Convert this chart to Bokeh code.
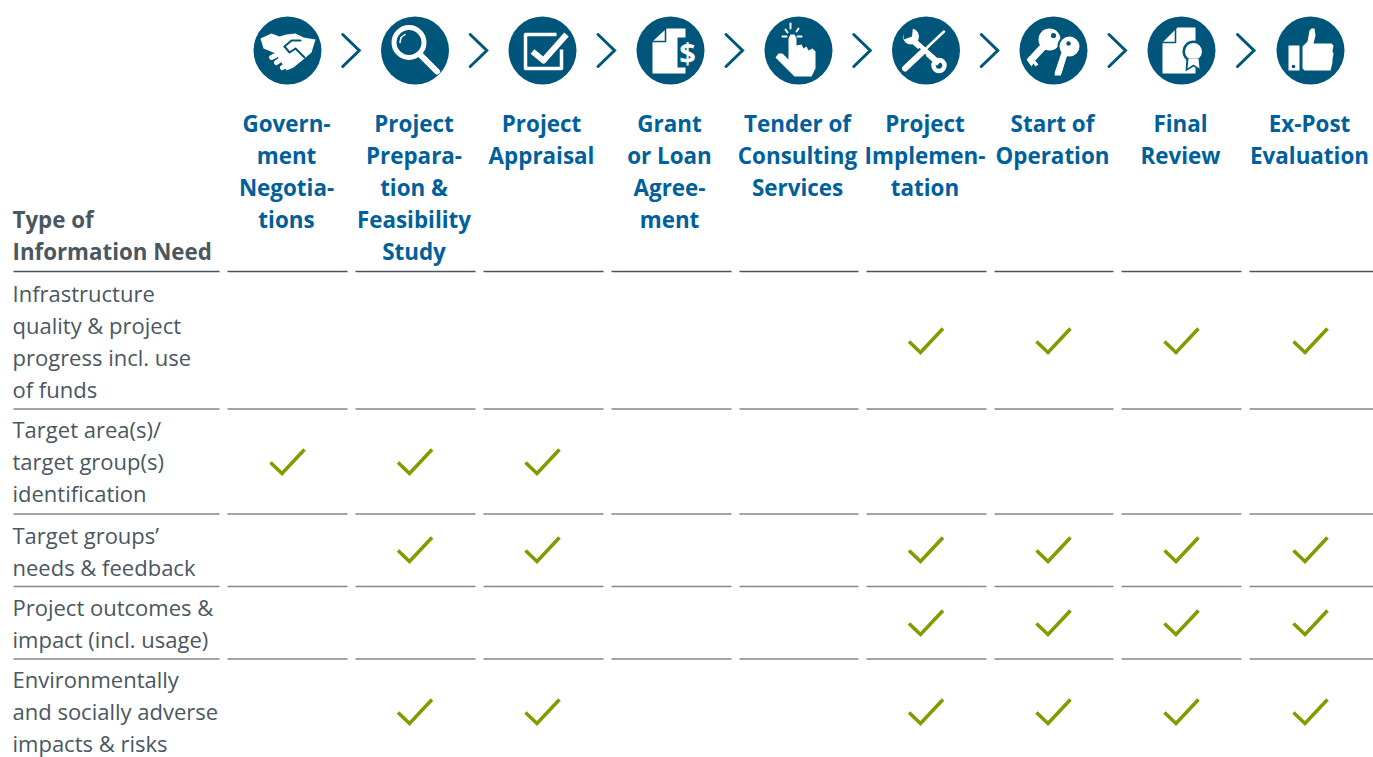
from bokeh.plotting import figure
from bokeh.models import Range1d
from bokeh.core.properties import value
from bokeh.embed import file_html
from bokeh.resources import INLINE

stages = [["Govern-","ment","Negotia-","tions"],["Project","Prepara-","tion &","Feasibility","Study"],
          ["Project","Appraisal"],["Grant","or Loan","Agree-","ment"],["Tender of","Consulting","Services"],
          ["Project","Implemen-","tation"],["Start of","Operation"],["Final","Review"],["Ex-Post","Evaluation"]]
needs = [["Infrastructure","quality & project","progress incl. use","of funds"],
         ["Target area(s)/","target group(s)","identification"],
         ["Target groups’","needs & feedback"],
         ["Project outcomes &","impact (incl. usage)"],
         ["Environmentally","and socially adverse","impacts & risks"]]
header = ["Type of","Information Need"]
checks = [[0,0,0,0,0,1,1,1,1],[1,1,1,0,0,0,0,0,0],[0,1,1,0,0,1,1,1,1],[0,0,0,0,0,1,1,1,1],[0,1,1,0,0,1,1,1,1]]

col_x = [287,414.5,542,670,798,925.5,1053,1181,1310]
col_l = [227,355,483,611,739,866,994,1121,1249]
col_r = [347,475,603,731,858,986,1113,1241,1373]
rule_y = [271,408.5,513.5,586,658.5]
row_check_y = [340,461,549,622,711]
need_top = [292,428,534,606,678]
LH = 32
BLUE="#00567a"; TITLE="#00609c"; GREY="#4a5761"; GREEN="#849b00"; RULE="#80878c"

p = figure(width=1373,height=757,x_range=Range1d(0,1373),y_range=Range1d(757,0),
           output_backend="svg",toolbar_location=None,min_border=0,outline_line_color=None)
p.xaxis.visible=False; p.yaxis.visible=False; p.grid.visible=False

def txt(x,y,s,color,bold=False,align="left",size="22px"):
    p.text([x],[y],text=[s],text_color=color,text_font=value("Open Sans"),text_font_size=size,
           text_font_style="bold" if bold else "normal",text_align=align,text_baseline="middle")

for i,lines in enumerate(stages):
    for j,s in enumerate(lines):
        txt(col_x[i]-1,123+LH*j,s,TITLE,True,"center","22.4px")
for j,s in enumerate(header):
    txt(12,219+LH*j,s,GREY,True,"left","22.3px")
for i,lines in enumerate(needs):
    for j,s in enumerate(lines):
        txt(12,need_top[i]+LH*j,s,GREY)

# rules
for y,c,w in zip(rule_y,[GREY]+[RULE]*4,[1.6]+[1.4]*4):
    p.segment(x0=[13]+col_l,x1=[219]+col_r,y0=[y]*10,y1=[y]*10,line_color=c,line_width=w)

# checks
for r,row in enumerate(checks):
    for c,v in enumerate(row):
        if v:
            cx,cy=col_x[c],row_check_y[r]
            p.line([cx-17,cx-5.5,cx+17],[cy+1,cy+12,cy-12],line_color=GREEN,line_width=3.6,line_join="miter")

# circles + chevrons
p.circle(x=col_x,y=[50]*9,radius=34,fill_color=BLUE,line_color=None)
for a,b in zip(col_x[:-1],col_x[1:]):
    mx=(a+b)/2-0.5
    p.line([mx-8,mx+8.5,mx-8],[34,50,66],line_color=BLUE,line_width=3,line_cap="round",line_join="miter")

W="white"
def poly(cx,pts,color=W):
    p.patch([cx+a for a,b in pts],[50+b for a,b in pts],fill_color=color,line_color=None)
def ln(cx,xs,ys,w=3,color=W,cap="round"):
    p.line([cx+x for x in xs],[50+y for y in ys],line_color=color,line_width=w,line_cap=cap,line_join="round")
def ring(cx,dx,dy,r,w=4):
    p.circle(x=[cx+dx],y=[50+dy],radius=r,fill_color=None,line_color=W,line_width=w)
def dot(cx,dx,dy,r,color=W):
    p.circle(x=[cx+dx],y=[50+dy],radius=r,fill_color=color,line_color=None)

# handshake
c=col_x[0]
poly(c,[(-27,-12),(-16,-17),(-8,-14),(-1,-16),(8,-17),(16,-13),(28,-11),(24,2),(17,8),(6,17),(-1,20),(-6,12),(-12,3),(-24,-2)])
ln(c,[-3,4,13],[-4,-10,-10],2,BLUE); ln(c,[-3,2,8,17],[-4,2,-2,7],2,BLUE)
ln(c,[-16,-12],[7,5],5); ln(c,[-11,-5],[12,8],5); ln(c,[-5,1],[17,13],5)
# magnifier
c=col_x[1]
ring(c,-6,-8,15,5); ln(c,[6,22],[5,21],6,W,"round")
ln(c,[-15,-14,-10],[-8,-13,-16],1.5)
# checkbox
c=col_x[2]
ln(c,[14,-17,-17,19,19],[-16,-16,18,18,-1],3.5,W,"butt"); ln(c,[-10,1,24],[1,10,-16],6,W,"butt")
# grant doc
c=col_x[3]
poly(c,[(-4,-22),(15,-22),(15,23),(-18,23),(-18,-9)])
ln(c,[-18,-5,-5],[-9,-9,-22],1.6,BLUE)
poly(c,[(7,-13),(26,-13),(26,17),(7,17)],BLUE)
txt(c+17,52,"$",W,True,"center","29px")
# pointing hand
c=col_x[4]
poly(c,[(-10,-12),(-8,-16),(-4,-16),(-2,-12),(-2,-5),(3,-6),(5,-2),(8,-4),(10,0),(14,-2),(17,1),(17,18),(13,26),(-4,26),(-8,22),(-23,7),(-20,3),(-16,3),(-10,9)])
ln(c,[-8,-8],[-27,-22],2); ln(c,[-13,-11],[-21,-18],2); ln(c,[0,-2],[-22,-19],2); ln(c,[-16,-12],[-14,-14],2); ln(c,[-1,3],[-14,-14],2)
# tools
c=col_x[5]
dot(c,-15,-14,8); poly(c,[(-24,-24),(-13,-24),(-14,-14),(-22,-11)],BLUE)
ln(c,[-13,13],[-10,13],6,W,"butt"); ring(c,13,15,5.5,4.5)
ln(c,[-21,-3],[18,1],10,BLUE,"butt")
ln(c,[-21,-3],[18,1],6,W,"round"); ln(c,[-3,18],[1,-19],2.5)
# keys
c=col_x[6]
dot(c,-4,-11,11); dot(c,0,-15,2.6,BLUE); ln(c,[-10,-24],[-4,11],7,W,"butt")
poly(c,[(-27,9),(-21,7),(-15,14),(-18,16),(-20,13),(-22,16)])
dot(c,16,-4,12,BLUE)
dot(c,16,-4,10); dot(c,15,-7,2.2,BLUE); ln(c,[12,4],[0,24],6.5,W,"butt")
poly(c,[(5,12),(11,12),(9,20),(7,25),(1,25)])
# final review doc
c=col_x[7]
poly(c,[(-4,-23),(14,-23),(14,23),(-19,23),(-19,-8)])
ln(c,[-19,-6,-6],[-8,-8,-23],1.6,BLUE)
dot(c,12,1,11,BLUE); dot(c,12,1,8.5); poly(c,[(5,8),(19,8),(20,21),(12,16),(4,21)],BLUE)
poly(c,[(7,8),(17,8),(18,18),(12,14),(6,18)])
# thumbs up
c=col_x[8]
poly(c,[(-22,-5),(-11,-5),(-11,20),(-22,20)]); dot(c,-17,16,1.8,BLUE)
poly(c,[(-8,-4),(-3,-9),(-1,-20),(1,-22),(4,-22),(5,-15),(3,-7),(21,-7),(23,-5),(22,1),(23,3),(22,9),(22,12),(20,20),(-6,20),(-8,18)])

open("out.html","w").write(file_html(p,INLINE))
